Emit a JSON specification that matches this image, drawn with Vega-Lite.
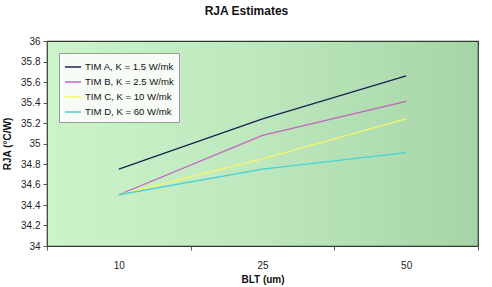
{
  "$schema": "https://vega.github.io/schema/vega-lite/v6.json",
  "width": 431,
  "height": 205,
  "autosize": {"type": "none"},
  "padding": {"left": 47, "top": 41, "right": 14, "bottom": 41},
  "background": "white",
  "title": {
    "text": "RJA Estimates",
    "font": "Liberation Sans",
    "fontSize": 12,
    "fontWeight": "bold",
    "color": "#111",
    "anchor": "middle",
    "dx": -16,
    "offset": 18
  },
  "config": {
    "view": {
      "fill": {
        "gradient": "linear",
        "x1": 0, "y1": 0, "x2": 1, "y2": 0,
        "stops": [
          {"offset": 0, "color": "#cbf4cb"},
          {"offset": 0.5, "color": "#bde7bd"},
          {"offset": 1, "color": "#a5d5a7"}
        ]
      },
      "stroke": "#2f3a2f",
      "strokeWidth": 1.2
    },
    "font": "Liberation Sans"
  },
  "data": {
    "values": [
      {"blt": "10", "series": "TIM A, K = 1.5 W/mk", "r": 34.75},
      {"blt": "25", "series": "TIM A, K = 1.5 W/mk", "r": 35.24},
      {"blt": "50", "series": "TIM A, K = 1.5 W/mk", "r": 35.66},
      {"blt": "10", "series": "TIM B, K = 2.5 W/mk", "r": 34.5},
      {"blt": "25", "series": "TIM B, K = 2.5 W/mk", "r": 35.08},
      {"blt": "50", "series": "TIM B, K = 2.5 W/mk", "r": 35.41},
      {"blt": "10", "series": "TIM C, K = 10 W/mk", "r": 34.5},
      {"blt": "25", "series": "TIM C, K = 10 W/mk", "r": 34.85},
      {"blt": "50", "series": "TIM C, K = 10 W/mk", "r": 35.24},
      {"blt": "10", "series": "TIM D, K = 60 W/mk", "r": 34.5},
      {"blt": "25", "series": "TIM D, K = 60 W/mk", "r": 34.75},
      {"blt": "50", "series": "TIM D, K = 60 W/mk", "r": 34.91}
    ]
  },
  "mark": {"type": "line", "strokeWidth": 1.3},
  "encoding": {
    "x": {
      "field": "blt",
      "type": "ordinal",
      "sort": ["10", "25", "50"],
      "scale": {"type": "band", "paddingInner": 0, "paddingOuter": 0},
      "axis": {
        "title": "BLT (um)",
        "titleFont": "Liberation Sans",
        "titleFontSize": 10,
        "titleFontWeight": "bold",
        "titleColor": "#111",
        "titlePadding": 4,
        "labelAngle": 0,
        "labelFontSize": 10,
        "labelColor": "#222",
        "labelPadding": 10,
        "tickBand": "extent",
        "tickColor": "#555",
        "tickSize": 4,
        "domain": false,
        "grid": false
      }
    },
    "y": {
      "field": "r",
      "type": "quantitative",
      "scale": {"domain": [34, 36], "nice": false, "zero": false},
      "axis": {
        "title": "RJA (°C/W)",
        "titleFontSize": 10,
        "titleFontWeight": "bold",
        "titleColor": "#111",
        "titlePadding": 8,
        "values": [34, 34.2, 34.4, 34.6, 34.8, 35, 35.2, 35.4, 35.6, 35.8, 36],
        "format": ".1~f",
        "labelFontSize": 10,
        "labelColor": "#222",
        "labelPadding": 3,
        "tickColor": "#555",
        "tickSize": 4,
        "domain": false,
        "grid": false
      }
    },
    "color": {
      "field": "series",
      "type": "nominal",
      "scale": {
        "domain": ["TIM A, K = 1.5 W/mk", "TIM B, K = 2.5 W/mk", "TIM C, K = 10 W/mk", "TIM D, K = 60 W/mk"],
        "range": ["#1c2150", "#c462c4", "#f6f66a", "#48d2d2"]
      },
      "legend": {
        "title": null,
        "orient": "top-left",
        "offset": 12,
        "fillColor": "#f7fcf7",
        "strokeColor": "#9a9a9a",
        "padding": 5,
        "symbolType": "stroke",
        "symbolSize": 260,
        "symbolStrokeWidth": 1.5,
        "labelFontSize": 9.6,
        "labelColor": "#111",
        "labelOffset": 3,
        "rowPadding": 1
      }
    }
  }
}
